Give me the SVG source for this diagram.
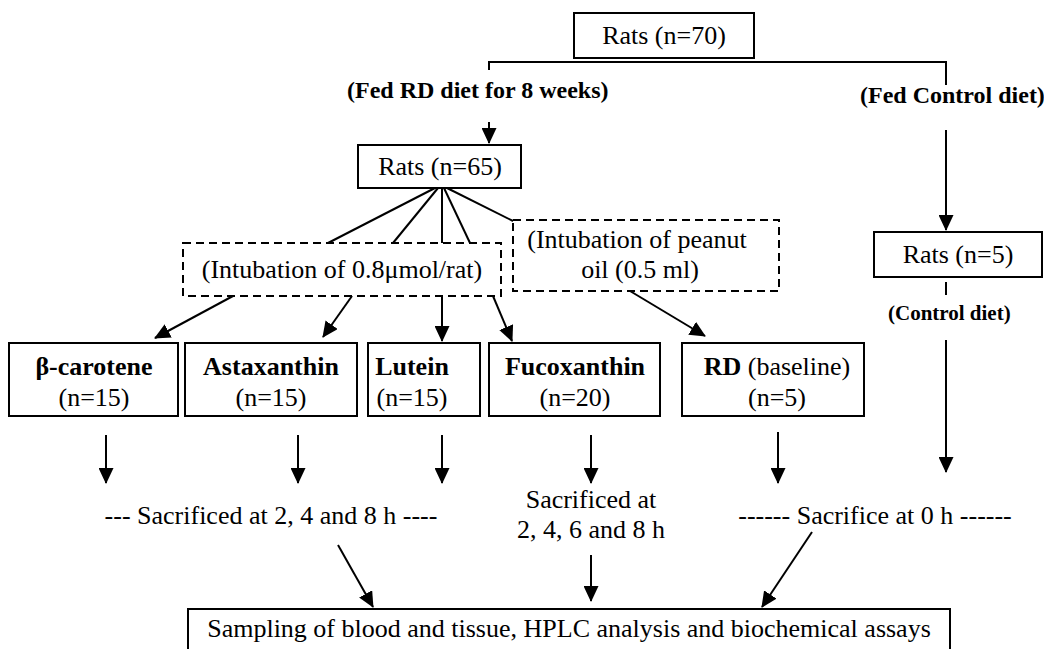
<svg xmlns="http://www.w3.org/2000/svg" width="1044" height="649" viewBox="0 0 1044 649">
  <style>
    .box { fill: #fff; stroke: #000; stroke-width: 2; }
    .dash { fill: #fff; stroke: #000; stroke-width: 2; stroke-dasharray: 8 5; }
    .ln { fill: none; stroke: #000; stroke-width: 2; }
    .arr { fill: none; stroke: #000; stroke-width: 2; marker-end: url(#ah); }
    text { font-family: "Liberation Serif", "Times New Roman", serif; fill: #000; }
    .t { font-size: 26px; text-anchor: middle; }
    .b { font-size: 26px; font-weight: bold; text-anchor: middle; }
    .lb { font-size: 24px; font-weight: bold; }
  </style>
  <defs>
    <marker id="ah" markerUnits="userSpaceOnUse" markerWidth="16" markerHeight="15" refX="15" refY="7.5" orient="auto">
      <path d="M0,0 L16,7.5 L0,15 Z" fill="#000"/>
    </marker>
  </defs>
  <rect width="1044" height="649" fill="#fff"/>

  <g id="connectors">
    <polyline class="ln" points="489,70 489,62 946,62 946,85"/>
    <line class="arr" x1="489" y1="122" x2="489" y2="143"/>
    <line class="arr" x1="946" y1="130" x2="946" y2="230"/>
    <line class="ln" x1="946" y1="282" x2="946" y2="295"/>
    <line class="arr" x1="946" y1="340" x2="946" y2="472"/>
    <line class="ln" x1="435" y1="188" x2="328" y2="243"/>
    <line class="ln" x1="438" y1="188" x2="393" y2="243"/>
    <line class="ln" x1="442" y1="188" x2="442" y2="243"/>
    <line class="ln" x1="444" y1="188" x2="470" y2="243"/>
    <line class="ln" x1="447" y1="188" x2="513" y2="221"/>
    <line class="arr" x1="233" y1="296" x2="155" y2="338"/>
    <line class="arr" x1="352" y1="296" x2="323" y2="337"/>
    <line class="arr" x1="442" y1="296" x2="442" y2="341"/>
    <line class="arr" x1="493" y1="296" x2="512" y2="341"/>
    <line class="arr" x1="630" y1="291" x2="705" y2="336"/>
    <line class="arr" x1="106" y1="435" x2="106" y2="483"/>
    <line class="arr" x1="298" y1="435" x2="298" y2="483"/>
    <line class="arr" x1="442" y1="435" x2="442" y2="483"/>
    <line class="arr" x1="591" y1="435" x2="591" y2="483"/>
    <line class="arr" x1="778" y1="432" x2="778" y2="483"/>
    <line class="arr" x1="338" y1="545" x2="373" y2="607"/>
    <line class="arr" x1="591" y1="555" x2="591" y2="601"/>
    <line class="arr" x1="812" y1="532" x2="762" y2="607"/>
  </g>

  <g id="labels">
    <text class="lb" x="347" y="98">(Fed RD diet for 8 weeks)</text>
    <text class="lb" x="860" y="103">(Fed Control diet)</text>
    <text class="lb" x="888" y="320" style="font-size:21px">(Control diet)</text>
    <text class="t" x="271" y="524">--- Sacrificed at 2, 4 and 8 h ----</text>
    <text class="t" x="591" y="508">Sacrificed at</text>
    <text class="t" x="591" y="538">2, 4, 6 and 8 h</text>
    <text class="t" x="875" y="524">------ Sacrifice at 0 h ------</text>
  </g>

  <g id="rats70">
    <rect class="box" x="574" y="13" width="180" height="45"/>
    <text class="t" x="664" y="44">Rats (n=70)</text>
  </g>
  <g id="rats65">
    <rect class="box" x="358" y="145" width="163" height="43"/>
    <text class="t" x="440" y="175">Rats (n=65)</text>
  </g>
  <g id="rats5">
    <rect class="box" x="874" y="232" width="168" height="45"/>
    <text class="t" x="958" y="263">Rats (n=5)</text>
  </g>
  <g id="intubation1">
    <rect class="dash" x="183" y="243" width="318" height="53"/>
    <text class="t" x="342" y="278">(Intubation of 0.8μmol/rat)</text>
  </g>
  <g id="intubation2">
    <rect class="dash" x="513" y="220" width="266" height="71"/>
    <text class="t" x="637" y="248">(Intubation of peanut</text>
    <text class="t" x="640" y="278">oil (0.5 ml)</text>
  </g>
  <g id="betacarotene">
    <rect class="box" x="9" y="343" width="169" height="73"/>
    <text class="b" x="94" y="375">β-carotene</text>
    <text class="t" x="94" y="406">(n=15)</text>
  </g>
  <g id="astaxanthin">
    <rect class="box" x="185" y="343" width="172" height="73"/>
    <text class="b" x="271" y="375">Astaxanthin</text>
    <text class="t" x="271" y="406">(n=15)</text>
  </g>
  <g id="lutein">
    <rect class="box" x="368" y="343" width="112" height="73"/>
    <text class="b" x="412" y="375">Lutein</text>
    <text class="t" x="412" y="406">(n=15)</text>
  </g>
  <g id="fucoxanthin">
    <rect class="box" x="489" y="343" width="171" height="73"/>
    <text class="b" x="575" y="375">Fucoxanthin</text>
    <text class="t" x="575" y="406">(n=20)</text>
  </g>
  <g id="rd">
    <rect class="box" x="682" y="343" width="182" height="73"/>
    <text class="t" x="777" y="375"><tspan font-weight="bold">RD</tspan> (baseline)</text>
    <text class="t" x="777" y="406">(n=5)</text>
  </g>
  <g id="sampling">
    <rect class="box" x="188" y="609" width="762" height="60"/>
    <text class="t" x="569" y="637">Sampling of blood and tissue, HPLC analysis and biochemical assays</text>
  </g>
</svg>
